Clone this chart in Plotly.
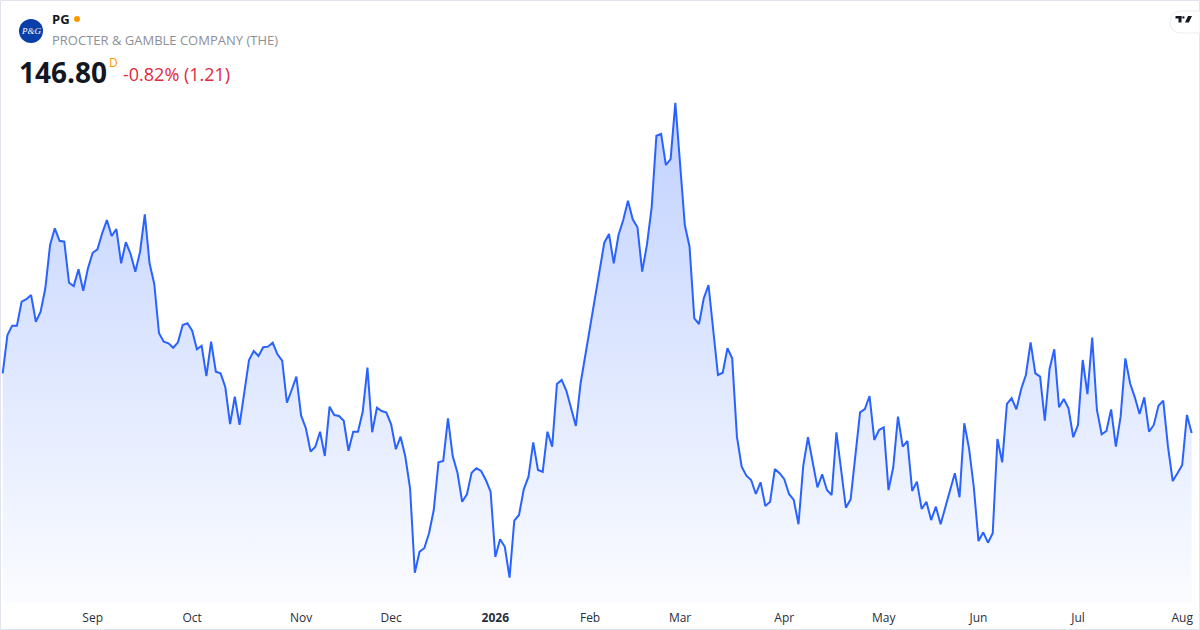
import plotly.graph_objects as go

# daily closes, one per trading day (Aug 2025 -> Aug 2026)
prices = [
    150.78, 153.34, 153.96, 153.96, 155.56, 155.72, 156.00, 154.22, 154.89, 156.45,
    159.34, 160.45, 159.62, 159.56, 156.82, 156.60, 157.72, 156.29, 157.78, 158.82,
    159.05, 160.12, 161.00, 159.94, 160.40, 158.12, 159.52, 158.74, 157.56, 158.89,
    161.38, 158.12, 156.74, 153.45, 152.89, 152.78, 152.49, 152.85, 154.00, 154.12,
    153.62, 152.38, 152.62, 150.60, 152.89, 150.89, 150.78, 149.85, 147.40, 149.22,
    147.34, 149.45, 151.67, 152.27, 151.94, 152.52, 152.56, 152.82, 152.05, 151.62,
    148.82, 149.67, 150.56, 147.96, 147.12, 145.56, 145.89, 146.89, 145.27, 148.56,
    148.00, 147.94, 147.62, 145.62, 146.89, 146.89, 148.22, 151.16, 146.85, 148.49,
    148.27, 148.16, 147.38, 145.72, 146.56,
    145.22, 143.12, 137.49, 138.89, 139.12, 140.12, 141.67, 144.85, 144.94, 147.78,
    145.27, 144.16, 142.22, 142.72, 144.16, 144.45, 144.27, 143.67, 142.89, 138.54,
    139.72, 139.22, 137.16, 140.96, 141.34, 143.05, 143.89, 146.18, 144.34, 144.22,
    146.89, 145.89, 150.07, 150.34, 149.62, 148.45, 147.27, 150.12, 152.00, 153.67,
    155.54, 157.47, 159.49, 160.07, 158.12, 160.00, 161.00, 162.29, 161.05, 160.52,
    157.56, 159.34, 161.85, 166.62, 166.74, 164.67, 165.07, 168.82, 164.78, 160.67,
    159.22, 154.45, 154.07, 155.78, 156.67, 153.67, 150.67, 150.82, 152.45, 151.78,
    146.56, 144.56, 143.96, 143.67, 142.74, 143.52, 141.94, 142.22, 144.40, 144.12,
    143.72, 142.74, 142.34, 140.72, 144.62,
    146.52, 144.85, 143.18, 144.05, 143.00, 142.67, 146.85, 144.34, 141.82, 142.38,
    145.27, 148.18, 148.40, 149.27, 146.34, 147.00, 147.18, 143.00, 144.52, 147.89,
    145.89, 146.27, 142.94, 143.56, 141.74, 142.22, 141.00, 141.89, 140.72, 141.89,
    143.00, 144.12, 142.52, 147.45, 145.78, 143.22, 139.60, 140.18, 139.49, 140.12,
    146.40, 144.85,
    148.74, 149.12, 148.38, 149.72, 150.67, 152.85, 150.78, 150.56, 147.62, 151.07,
    152.38, 148.52, 149.07, 148.45, 146.52, 147.34, 151.67, 149.40, 153.16, 148.34,
    146.72, 146.94, 148.38, 145.89, 147.89, 151.78, 150.12, 149.18, 148.07, 149.18,
    146.89, 147.34, 148.62, 148.96, 145.89, 143.60, 144.12, 144.67, 148.01, 146.80,
]

# first trading day of each month (index into prices)
tick_index = [19, 40, 63, 82, 104, 124, 143, 165, 186, 206, 227, 249]
tick_labels = ["Sep", "Oct", "Nov", "Dec", "<b>2026</b>", "Feb", "Mar",
               "Apr", "May", "Jun", "Jul", "Aug"]

symbol = "PG"
company = "PROCTER & GAMBLE COMPANY (THE)"
last_price = "146.80"
change_text = "-0.82% (1.21)"

W, H = 1200, 630
M_T, M_B = 90, 27
BLUE = "#2962ff"


# pixel -> paper helpers (plot area spans full width)
def px(x):
    return x / W


def py(y):
    return (H - M_B - y) / (H - M_T - M_B)


fig = go.Figure()
fig.add_trace(go.Scatter(
    x=list(range(len(prices))),
    y=prices,
    mode="lines",
    line=dict(color=BLUE, width=2),
    fill="tozeroy",
    fillgradient=dict(
        type="vertical",
        start=135.47,
        stop=169.67,
        colorscale=[[0, "rgba(41,98,255,0.02)"], [1, "rgba(41,98,255,0.30)"]],
    ),
    hoverinfo="skip",
))

fig.update_layout(
    width=W, height=H,
    paper_bgcolor="white",
    plot_bgcolor="white",
    showlegend=False,
    margin=dict(l=0, r=0, t=M_T, b=M_B),
    font=dict(family="Open Sans", color="#131722"),
    xaxis=dict(
        range=[-0.57, 252.76],
        tickvals=tick_index,
        ticktext=tick_labels,
        tickfont=dict(size=12, color="#2a2e39"),
        ticklabelstandoff=6,
        showgrid=False, zeroline=False, showline=False,
        ticks="",
    ),
    yaxis=dict(range=[135.47, 169.67], visible=False, showgrid=False, zeroline=False),
)

shapes = [
    # outer frame
    dict(type="rect", xref="paper", yref="paper",
         x0=px(0.5), x1=px(1199.5), y0=py(629.5), y1=py(0.5),
         line=dict(color="#e0e3eb", width=1), layer="above"),
    # P&G logo disc
    dict(type="circle", xref="paper", yref="paper",
         x0=px(19), x1=px(43), y0=py(43), y1=py(19),
         fillcolor="#0a3ea8", line=dict(width=0)),
    # live dot
    dict(type="circle", xref="paper", yref="paper",
         x0=px(74), x1=px(80), y0=py(22), y1=py(16),
         fillcolor="#ff9800", line=dict(width=0)),
    # logo pill top-right
    dict(type="path", xref="paper", yref="paper",
         path=f"M {px(1182)},{py(11)} L {px(1200)},{py(11)} L {px(1200)},{py(33)} "
              f"L {px(1182)},{py(33)} Q {px(1170)},{py(33)} {px(1170)},{py(22)} "
              f"Q {px(1170)},{py(11)} {px(1182)},{py(11)} Z",
         fillcolor="white", line=dict(color="#ebedf2", width=1)),
    # TV glyph
    dict(type="rect", xref="paper", yref="paper",
         x0=px(1175.5), x1=px(1181.5), y0=py(18.5), y1=py(16),
         fillcolor="#131722", line=dict(width=0)),
    dict(type="rect", xref="paper", yref="paper",
         x0=px(1178.5), x1=px(1181.5), y0=py(22.5), y1=py(16),
         fillcolor="#131722", line=dict(width=0)),
    dict(type="circle", xref="paper", yref="paper",
         x0=px(1182.2), x1=px(1184.6), y0=py(18.6), y1=py(16.2),
         fillcolor="#131722", line=dict(width=0)),
    dict(type="path", xref="paper", yref="paper",
         path=f"M {px(1188)},{py(16)} L {px(1192)},{py(16)} L {px(1188.8)},{py(22.5)} "
              f"L {px(1185)},{py(22.5)} Z",
         fillcolor="#131722", line=dict(width=0)),
]
fig.update_layout(shapes=shapes)

annotations = [
    dict(text="<i>P&amp;G</i>", x=px(31), y=py(31), xanchor="center", yanchor="middle",
         font=dict(size=9, color="white", family="Liberation Serif")),
    dict(text=f"<b>{symbol}</b>", x=px(50), y=py(19), xanchor="left", yanchor="middle",
         font=dict(size=13, color="#131722")),
    dict(text=company, x=px(50), y=py(40), xanchor="left", yanchor="middle",
         font=dict(size=13, color="#8c8f98")),
    dict(text=f"<b>{last_price}</b>", x=px(17), y=py(72), xanchor="left", yanchor="middle",
         font=dict(size=28, color="#131722")),
    dict(text="D", x=px(107), y=py(62), xanchor="left", yanchor="middle",
         font=dict(size=12, color="#ff9800")),
    dict(text=change_text, x=px(121), y=py(74), xanchor="left", yanchor="middle",
         font=dict(size=18, color="#e0293c")),
]
for a in annotations:
    a.update(xref="paper", yref="paper", showarrow=False)
fig.update_layout(annotations=annotations)

# drop the default page margin so the chart sits at (0, 0)
fig.write_html("out.html", config={"displayModeBar": False},
               post_script="document.body.style.margin='0';")
